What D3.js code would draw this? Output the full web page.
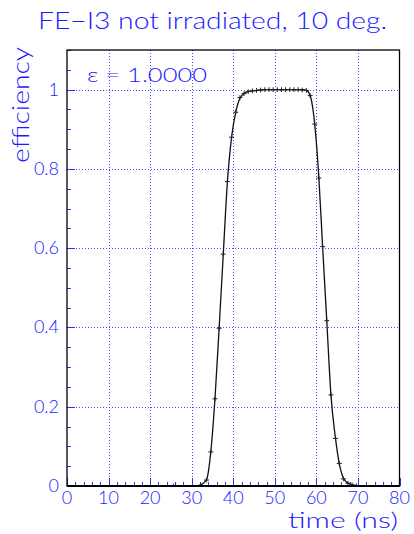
<!DOCTYPE html>
<html>
<head>
<meta charset="utf-8">
<script src="https://cdn.jsdelivr.net/npm/d3@7"></script>
<style>
  html, body { margin: 0; padding: 0; background: #fff; }
  svg { display: block; }
  text { font-family: Lato, "Liberation Sans", Arial, sans-serif; font-weight: 300; fill: #1a1aff; }
</style>
</head>
<body>
<svg id="chart" width="414" height="534"></svg>
<script>
// Measured efficiency vs. delay time
const timeNs = [25.6, 32.2, 33.6, 34.6, 35.6, 36.6, 37.6, 38.6, 39.6, 40.6, 41.6, 42.6, 43.6, 44.6,
  45.6, 46.6, 47.6, 48.6, 49.6, 50.6, 51.6, 52.6, 53.6, 54.6, 55.6, 56.6, 57.6, 58.5, 59.6,
  60.6, 61.5, 62.5, 63.5, 64.6, 65.5, 66.5, 67.6, 68.6, 69.6];
const efficiency = [0.0, 0.002, 0.015, 0.086, 0.22, 0.398, 0.585, 0.768, 0.88, 0.943, 0.98, 0.99,
  0.995, 0.997, 0.998, 0.999, 1, 1, 1, 1, 1, 1, 1, 1, 1, 0.999, 0.998, 0.985, 0.913,
  0.777, 0.604, 0.417, 0.23, 0.12, 0.057, 0.018, 0.007, 0.003, 0.001];
// half widths of the error bars
const timeErr = 0.6;
const effErr = 0.006;

// fitted efficiency curve
const fitTime = [0, 31.3, 32.2, 33.6, 34.6, 35.6, 36.6, 37.6, 38.6, 39.6, 40.6, 41.6, 42.6, 43.6,
  44.6, 45.6, 46.6, 47.6, 52.6, 56.6, 57.6, 58.5, 59.6, 60.6, 61.5, 62.5, 63.5, 64.6, 65.5,
  66.5, 67.6, 68.6, 69.6, 72, 80];
const fitEff = [0, 0, 0.003, 0.017, 0.086, 0.22, 0.398, 0.585, 0.768, 0.88, 0.943, 0.978, 0.99,
  0.995, 0.997, 0.998, 0.999, 1, 1, 1, 0.998, 0.985, 0.913, 0.777, 0.604, 0.417, 0.23, 0.12,
  0.057, 0.02, 0.007, 0.003, 0.001, 0, 0];

const xTicks = [0, 10, 20, 30, 40, 50, 60, 70, 80];
const yTicks = [0, 0.2, 0.4, 0.6, 0.8, 1];
const yTickLabels = ["0", "0.2", "0.4", "0.6", "0.8", "1"];

const titleText = "FE\u2212I3 not irradiated, 10 deg.";
const xTitle = "time (ns)";
const yTitle = "efficiency";
const fitLabel = "\u03b5 = 1.0000";

const blue = "#3232ff";
const svg = d3.select("#chart");
const L = 67, R = 399.5, T = 50, B = 486;

const x = d3.scaleLinear().domain([0, 80]).range([L, R]);
const y = d3.scaleLinear().domain([0, 1.1]).range([B, T]);

// grid
const grid = svg.append("g").attr("stroke", "#4a4aff").attr("stroke-width", 1)
  .attr("stroke-dasharray", "1,2");
grid.selectAll("line.gx").data(xTicks.slice(1, -1)).join("line")
  .attr("x1", d => Math.round(x(d)) + 0.5).attr("x2", d => Math.round(x(d)) + 0.5)
  .attr("y1", T).attr("y2", B);
grid.selectAll("line.gy").data(yTicks.slice(1)).join("line")
  .attr("y1", d => Math.round(y(d)) + 0.5).attr("y2", d => Math.round(y(d)) + 0.5)
  .attr("x1", L).attr("x2", R);

// inward ticks along the bottom and left axes
const xMinor = d3.range(0, 80.01, 2);
const yMinor = d3.range(0, 1.1001, 0.05);
const isMajorY = d => Math.abs(d * 5 - Math.round(d * 5)) < 1e-6;
const ticks = svg.append("g").attr("stroke", blue).attr("stroke-width", 1);
ticks.selectAll("line.xt").data(xMinor).join("line")
  .attr("x1", d => Math.round(x(d)) + 0.5).attr("x2", d => Math.round(x(d)) + 0.5)
  .attr("y1", B).attr("y2", d => B - (Math.abs(d % 10) < 1e-6 ? 8 : 4));
ticks.selectAll("line.yt").data(yMinor).join("line")
  .attr("y1", d => Math.round(y(d)) + 0.5).attr("y2", d => Math.round(y(d)) + 0.5)
  .attr("x1", L).attr("x2", d => L + (isMajorY(d) ? 8 : 4));

// fit curve
const line = d3.line().x((d, i) => x(fitTime[i])).y((d, i) => y(fitEff[i])).curve(d3.curveMonotoneX);
svg.append("path").datum(fitTime).attr("d", line)
  .attr("fill", "none").attr("stroke", "#111").attr("stroke-width", 1.3);

// data points with error bars
const pts = svg.append("g").attr("stroke", "#222").attr("stroke-width", 1);
timeNs.forEach((t, i) => {
  const v = efficiency[i];
  pts.append("line").attr("x1", x(t - timeErr)).attr("x2", x(t + timeErr))
    .attr("y1", y(v)).attr("y2", y(v));
  pts.append("line").attr("x1", x(t)).attr("x2", x(t))
    .attr("y1", y(Math.max(0, v - effErr))).attr("y2", y(v + effErr));
});

// frame
svg.append("rect").attr("x", L).attr("y", T).attr("width", R - L).attr("height", B - T)
  .attr("fill", "none").attr("stroke", "#000").attr("stroke-width", 1.3);
svg.append("line").attr("x1", L).attr("x2", R).attr("y1", B).attr("y2", B)
  .attr("stroke", "#000").attr("stroke-width", 2);

// tick labels
svg.append("g").selectAll("text").data(xTicks).join("text")
  .attr("x", d => x(d)).attr("y", 504).attr("text-anchor", "middle")
  .attr("font-size", 18).text(d => d);
svg.append("g").selectAll("text").data(yTicks).join("text")
  .attr("x", 59).attr("y", d => y(d) + 6).attr("text-anchor", "end")
  .attr("font-size", 18).text((d, i) => yTickLabels[i]);

// titles
svg.append("text").attr("x", 38).attr("y", 29).attr("font-size", 23)
  .attr("textLength", 349).attr("lengthAdjust", "spacingAndGlyphs").text(titleText);
svg.append("text").attr("x", 288).attr("y", 528).attr("font-size", 22)
  .attr("textLength", 110).attr("lengthAdjust", "spacingAndGlyphs").text(xTitle);
svg.append("text").attr("transform", "translate(29,163) rotate(-90)")
  .attr("font-size", 23).attr("textLength", 116).attr("lengthAdjust", "spacingAndGlyphs")
  .text(yTitle);
svg.append("text").attr("x", 87).attr("y", 82).attr("font-size", 19)
  .attr("textLength", 120).attr("lengthAdjust", "spacingAndGlyphs").text(fitLabel);
</script>
</body>
</html>
